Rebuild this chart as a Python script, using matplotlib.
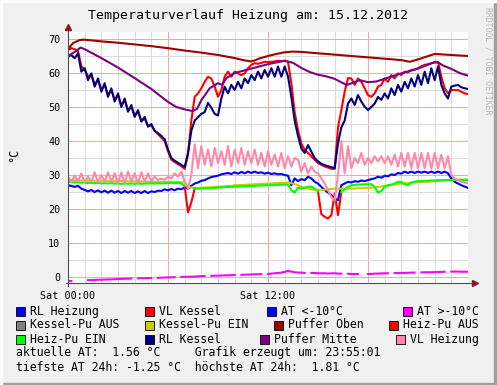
import numpy as np
import matplotlib
matplotlib.use("Agg")
import matplotlib.pyplot as plt
from matplotlib.patches import Rectangle

# RRD samples every 12 minutes over the day (hours since midnight)
hours = np.linspace(0, 24, 121)

rl_kessel = [
    64.8, 65.3, 64.3, 65.8, 60.4, 61.4, 57.9, 59.9, 56.0, 58.4,
    54.5, 57.0, 53.0, 55.5, 51.6, 54.0, 50.0, 52.5, 48.6, 50.6,
    47.1, 49.1, 45.7, 47.1, 44.2, 45.0, 43.0, 42.3, 41.5, 40.5,
    37.5, 35.0, 34.2, 33.6, 33.0, 32.3, 36.5, 43.0, 46.0, 47.0,
    48.0, 48.5, 51.2, 49.8, 48.0, 47.5, 52.5, 56.0, 54.0, 56.5,
    55.0, 57.4, 55.5, 58.4, 57.0, 59.4, 57.9, 60.4, 58.4, 60.9,
    58.9, 61.4, 58.9, 61.9, 58.9, 61.9, 59.0, 53.0, 46.0, 41.5,
    37.8, 36.5, 38.8, 36.9, 35.0, 34.0, 33.3, 32.9, 32.6, 32.3,
    32.0, 39.3, 44.0, 46.0, 51.0, 52.5, 50.6, 53.5, 51.6, 50.1,
    49.1, 50.0, 51.0, 53.0, 52.1, 54.0, 52.5, 55.5, 53.5, 56.5,
    54.5, 57.4, 55.5, 58.4, 56.0, 59.4, 56.5, 60.4, 57.0, 61.4,
    57.9, 61.9, 56.5, 54.0, 52.5, 56.0, 56.3, 56.5, 55.8, 55.5,
    55.3]

vl_kessel = [
    66.8, 67.3, 67.0, 66.5, 62.0, 61.0, 59.0, 59.5, 56.5, 58.0,
    55.0, 56.5, 53.5, 55.0, 52.0, 53.5, 50.5, 52.0, 49.0, 50.0,
    47.5, 48.5, 46.0, 46.5, 44.5, 44.5, 43.0, 42.0, 41.0, 40.0,
    37.0, 34.5, 33.8, 33.2, 32.6, 31.8, 36.0, 46.0, 53.0, 54.0,
    55.5, 57.4, 58.9, 58.4, 56.0, 53.0, 55.0, 58.9, 60.4, 58.9,
    60.4, 59.9, 59.4, 59.9, 61.4, 62.4, 62.9, 62.7, 63.0, 63.3,
    63.2, 63.3, 63.4, 63.6, 63.5, 63.6, 63.3, 57.0, 48.5, 43.2,
    39.3, 37.4, 36.5, 35.5, 34.5, 33.5, 33.0, 32.5, 32.2, 31.8,
    31.8, 44.0, 49.1, 54.5, 58.5, 58.4, 56.5, 58.4, 57.4, 55.5,
    53.5, 53.0, 54.0, 56.0, 56.5, 58.4, 57.4, 59.4, 58.4, 59.9,
    59.4, 60.4, 60.2, 60.9, 61.0, 61.4, 62.0, 62.4, 62.6, 62.9,
    63.1, 63.3, 58.9, 55.5, 54.0, 55.0, 55.0, 55.0, 54.5, 54.0,
    53.8]

vl_heizung = [
    29.5, 28.0, 29.8, 28.2, 30.5, 27.8, 29.5, 28.0, 30.8, 27.8,
    30.0, 28.0, 30.8, 28.0, 30.5, 27.5, 30.8, 27.5, 31.0, 28.0,
    30.5, 27.5, 30.8, 28.0, 30.5, 28.2, 29.5, 28.5, 29.0, 28.5,
    29.5, 29.0, 30.5, 29.5, 31.0, 28.0, 26.0, 30.0, 39.0, 32.0,
    38.5, 33.0, 37.5, 32.5, 38.0, 33.5, 37.0, 33.0, 38.5, 32.5,
    37.5, 33.5, 38.0, 33.0, 37.0, 33.5, 37.5, 33.0, 36.5, 32.5,
    37.0, 33.0, 36.0, 32.5, 36.5, 32.0, 35.5, 32.5, 35.0, 34.5,
    31.0, 33.5, 30.5, 32.5, 31.0, 30.5, 29.0, 27.5, 25.5, 23.5,
    22.5, 30.0, 40.0, 30.5, 38.5, 32.0, 35.0, 33.5, 36.5, 33.0,
    35.0, 33.5, 35.5, 34.0, 35.5, 33.5, 35.5, 33.0, 36.0, 32.5,
    36.5, 32.5, 36.5, 32.0, 36.5, 32.0, 36.5, 32.0, 36.5, 31.8,
    36.5, 32.0, 36.0, 32.0, 35.5, 30.0, 29.0, 28.5, 28.0, 27.8,
    27.5]

rl_heizung = [
    27.0, 26.8, 26.5, 26.8, 26.0, 25.6, 25.2, 25.6, 25.0, 25.5,
    24.9, 25.4, 24.8, 25.4, 24.8, 25.3, 24.7, 25.3, 24.8, 25.3,
    24.7, 25.2, 24.7, 25.3, 24.7, 25.2, 25.0, 25.4, 25.3, 25.8,
    25.5, 25.9, 25.5, 26.0, 25.8, 26.3, 26.0, 26.8, 27.5, 27.8,
    28.3, 28.5, 29.0, 29.4, 29.6, 29.8, 30.2, 30.4, 30.6, 30.3,
    30.8, 30.4, 30.9, 30.5, 31.0, 30.6, 31.0, 30.6, 30.8, 30.4,
    30.7, 30.3, 30.5, 30.2, 30.3, 30.0, 29.8, 27.0, 29.0, 28.2,
    28.8, 28.5, 29.5, 29.0, 28.0, 27.5, 26.5, 25.6, 24.8, 24.1,
    23.0, 22.6, 27.0, 27.5, 28.0, 27.8, 28.2, 28.0, 28.4, 28.2,
    28.5, 28.8, 29.0, 29.5, 29.2, 29.8, 29.6, 30.2, 30.0, 30.6,
    30.4, 31.0, 30.6, 31.0, 30.6, 31.0, 30.7, 31.0, 30.6, 31.0,
    30.6, 31.0, 30.6, 31.0, 30.5, 29.0, 28.0, 27.5, 27.0, 26.6,
    26.2]

heiz_pu = [
    28.0, 27.9, 27.8, 27.9, 27.7, 27.8, 27.6, 27.7, 27.6, 27.7,
    27.5, 27.6, 27.5, 27.6, 27.5, 27.5, 27.4, 27.5, 27.4, 27.5,
    27.4, 27.5, 27.4, 27.5, 27.5, 27.6, 27.5, 27.6, 27.5, 27.6,
    27.6, 27.7, 27.6, 27.7, 27.5, 26.8, 19.0, 22.0, 26.0, 26.0,
    26.0, 26.1, 26.1, 26.2, 26.2, 26.3, 26.4, 26.4, 26.5, 26.5,
    26.6, 26.6, 26.7, 26.7, 26.8, 26.8, 26.8, 26.9, 26.9, 27.0,
    27.0, 27.0, 27.1, 27.1, 27.1, 27.2, 27.2, 25.5, 24.8, 26.3,
    26.0, 26.3, 26.5, 26.6, 26.0, 25.2, 18.5, 17.7, 17.2, 18.2,
    24.6, 18.2, 25.0, 25.8, 26.5, 27.0, 27.1, 27.2, 27.2, 27.3,
    27.3, 27.3, 26.5, 24.8, 25.3, 26.5, 27.0, 27.2, 27.5, 28.0,
    28.0, 27.3, 27.0, 27.8, 28.0, 28.2, 28.2, 28.3, 28.3, 28.4,
    28.4, 28.5, 28.5, 28.5, 28.5, 28.5, 28.6, 28.5, 28.5, 28.5,
    28.5]
# samples where the heating pump was off
heiz_pu_off = [36, 37, 76, 77, 78, 79, 81]

kessel_pu_ein = [
    28.5, 28.5, 28.4, 28.5, 28.4, 28.4, 28.3, 28.4, 28.3, 28.3,
    28.3, 28.3, 28.2, 28.3, 28.2, 28.2, 28.2, 28.2, 28.1, 28.2,
    28.1, 28.1, 28.1, 28.1, 28.0, 28.1, 28.0, 28.0, 28.0, 28.0,
    28.0, 28.0, 28.0, 28.0, 27.9, 27.8, 26.5, 26.3, 26.2, 26.2,
    26.3, 26.3, 26.4, 26.4, 26.5, 26.6, 26.6, 26.7, 26.8, 26.8,
    27.0, 27.0, 27.1, 27.1, 27.2, 27.2, 27.3, 27.3, 27.4, 27.4,
    27.5, 27.5, 27.6, 27.6, 27.7, 27.7, 27.8, 27.6, 27.3, 27.0,
    26.5, 26.2, 26.0, 25.8, 25.7, 25.6, 25.6, 25.7, 25.8, 25.9,
    26.0, 26.0, 26.0, 26.0, 26.0, 26.0, 26.0, 26.1, 26.1, 26.1,
    26.2, 26.3, 26.4, 26.5, 26.6, 26.8, 26.9, 27.1, 27.2, 27.4,
    27.5, 27.6, 27.6, 27.7, 27.8, 27.8, 27.9, 28.0, 28.0, 28.1,
    28.2, 28.2, 28.3, 28.4, 28.5, 28.5, 28.6, 28.6, 28.7, 28.7,
    28.7]

at_aussen = [
    -1.25, -1.2, None, None, None, None, -0.9, -0.9, -0.85, -0.8,
    -0.8, -0.75, -0.7, -0.7, -0.65, -0.6, -0.55, -0.5, -0.5, -0.45,
    None, -0.4, -0.35, -0.35, -0.3, -0.3, None, -0.25, -0.2, -0.15,
    -0.1, -0.1, -0.05, None, 0.0, 0.05, 0.1, 0.1, 0.15, 0.2,
    0.25, 0.3, None, 0.35, 0.4, 0.4, 0.45, 0.5, 0.5, 0.55,
    0.6, None, 0.65, 0.7, 0.7, 0.75, 0.8, 0.8, 0.85, None,
    0.9, 1.0, 1.1, 1.2, 1.3, 1.5, 1.8, 1.6, 1.4, 1.3,
    1.3, 1.2, None, 1.2, 1.2, 1.1, 1.1, 1.1, 1.0, 1.1,
    1.1, 1.0, 1.0, None, 0.95, 0.9, 0.9, 0.9, None, None,
    0.9, 0.9, 1.0, 1.0, 1.05, 1.1, 1.1, None, 1.15, 1.2,
    1.2, 1.2, 1.25, 1.3, 1.3, None, 1.35, 1.4, 1.4, 1.4,
    1.45, 1.5, 1.5, 1.55, None, 1.6, 1.6, 1.6, 1.55, 1.55,
    1.56]

oben_h = [0, 0.3, 0.7, 1, 2, 3, 4, 5, 6, 7, 8, 9, 10, 10.5, 11, 11.25, 11.5,
          12, 12.5, 13, 13.5, 14, 15, 16, 17, 18, 19, 20, 20.5, 21, 21.5, 22, 23, 24]
puffer_oben = [67.0, 68.8, 69.7, 69.8, 69.3, 68.9, 68.4, 67.9, 67.3, 66.6, 66.0,
               65.3, 64.4, 63.8, 63.4, 63.8, 64.3, 65.0, 65.6, 66.1, 66.3, 66.2,
               65.8, 65.4, 65.0, 64.6, 64.2, 63.8, 63.3, 64.0, 64.8, 65.6, 65.3, 65.0]

mitte_h = [0, 0.5, 0.75, 1, 2, 3, 4, 5, 6, 6.5, 7, 7.5, 7.75, 8, 8.5, 9, 9.25, 9.5,
           10, 11, 12, 13, 13.5, 14, 14.5, 15, 15.5, 16, 16.5, 16.75, 17.5, 18,
           18.5, 19, 20, 21, 22, 22.25, 22.5, 23, 23.5, 24]
puffer_mitte = [65.0, 66.5, 67.5, 67.0, 64.4, 61.6, 58.5, 55.3, 51.5, 50.0, 49.3,
                48.8, 49.5, 52.0, 55.5, 57.0, 56.5, 58.5, 60.0, 61.3, 62.6, 63.6,
                63.0, 61.5, 60.3, 59.5, 59.0, 58.3, 57.0, 56.5, 57.9, 57.3, 57.5,
                58.3, 59.9, 61.3, 63.2, 63.0, 62.2, 61.2, 60.0, 59.2]

legend_labels = ["RL Heizung", "VL Kessel", "AT <-10°C", "AT >-10°C",
                 "Kessel-Pu AUS", "Kessel-Pu EIN", "Puffer Oben", "Heiz-Pu AUS",
                 "Heiz-Pu EIN", "RL Kessel", "Puffer Mitte", "VL Heizung"]
legend_colors = ["#0000FF", "#FF0000", "#0000FF", "#FF00FF",
                 "#808080", "#CCCC00", "#A00000", "#FF0000",
                 "#00FF00", "#000080", "#800080", "#FF88AA"]

plt.rcParams["font.family"] = "DejaVu Sans Mono"

W, H = 497, 385


def fx(x):
    return x / W


def fy(y):
    return 1 - y / H


fig = plt.figure(figsize=(W / 100, H / 100), dpi=100, facecolor="#F0F0F0")
ax = fig.add_axes([fx(68), fy(283), fx(468) - fx(68), fy(32) - fy(283)])
ax.set_facecolor("white")
ax.set_xlim(0, 24)
ax.set_ylim(-1.76, 72.06)
for s in ax.spines.values():
    s.set_visible(False)

# grid: minor grey, major light red
for h in range(0, 25):
    ax.axvline(h, color="#F2A8A8" if h % 6 == 0 else "#DCDCDC", lw=0.75, zorder=0)
for v in range(0, 75, 5):
    ax.axhline(v, color="#F2A8A8" if v % 10 == 0 else "#DCDCDC", lw=0.75, zorder=0)

lw = 1.5
ein = np.array(heiz_pu, dtype=float)
aus = np.full(len(heiz_pu), np.nan)
for i in heiz_pu_off:
    ein[i] = np.nan
for i in heiz_pu_off:
    for j in (i - 1, i, i + 1):
        aus[j] = heiz_pu[j]
at = np.array([np.nan if v is None else v for v in at_aussen])

ax.plot(hours, rl_heizung, color="#0000FF", lw=lw)
ax.plot(hours, vl_kessel, color="#FF0000", lw=lw)
ax.plot(hours, at, color="#FF00FF", lw=lw)
ax.plot(hours, kessel_pu_ein, color="#CCCC00", lw=lw)
ax.plot(oben_h, puffer_oben, color="#A00000", lw=lw)
ax.plot(hours, aus, color="#FF0000", lw=lw)
ax.plot(hours, ein, color="#00FF00", lw=lw)
ax.plot(hours, rl_kessel, color="#000080", lw=lw)
ax.plot(mitte_h, puffer_mitte, color="#800080", lw=lw)
ax.plot(hours, vl_heizung, color="#FF88AA", lw=lw)

# axes with arrows
ax.plot([0, 0], [-2.6, 73.3], color="#505050", lw=0.8, clip_on=False)
ax.plot([-0.15, 24.3], [-1.76, -1.76], color="#505050", lw=0.8, clip_on=False)
ax.plot([0], [73.6], marker="^", color="#8B1A1A", ms=4, clip_on=False)
ax.plot([24.4], [-1.76], marker=">", color="#8B1A1A", ms=4, clip_on=False)

ax.set_yticks(range(0, 71, 10))
ax.set_xticks([0, 12])
ax.set_xticklabels(["Sat 00:00", "Sat 12:00"])
ax.tick_params(length=0, pad=5.5, labelsize=7.3)

fig.text(0.5, fy(16), "Temperaturverlauf Heizung am: 15.12.2012",
         ha="center", va="center", fontsize=9.5)
fig.text(fx(14), fy(155), "°C", rotation=90, ha="center", va="center", fontsize=8.5)
fig.text(fx(488), fy(7), "RRDTOOL / TOBI OETIKER", rotation=270, ha="center",
         va="top", fontsize=5.9, color="#B8B8B8")

# justified legend rows (square x positions per row)
row_x = [[16, 145, 267, 403], [16, 145, 274, 389], [16, 145, 260, 396]]
row_y = [311.7, 325, 339.3]
for k, (lab, col) in enumerate(zip(legend_labels, legend_colors)):
    x = row_x[k // 4][k % 4]
    y = row_y[k // 4]
    fig.patches.append(Rectangle((fx(x), fy(y + 4.5)), 9 / W, 9 / H,
                                 transform=fig.transFigure, facecolor=col,
                                 edgecolor="black", lw=0.6))
    fig.text(fx(x + 14), fy(y), lab, va="center", fontsize=8.3)

fig.text(fx(16), fy(352.7), "aktuelle AT:  1.56 °C     Grafik erzeugt um: 23:55:01",
         va="center", fontsize=8.3)
fig.text(fx(16), fy(367.3), "tiefste AT 24h: -1.25 °C  höchste AT 24h:  1.81 °C",
         va="center", fontsize=8.3)

# shaded frame
fig.patches.append(Rectangle((0, 0), 1, 2 / H, transform=fig.transFigure, color="#A0A0A0"))
fig.patches.append(Rectangle((1 - 3 / W, 0), 3 / W, 1, transform=fig.transFigure, color="#A0A0A0"))
fig.patches.append(Rectangle((0, 1 - 2 / H), 1, 2 / H, transform=fig.transFigure, color="#FCFCFC"))
fig.patches.append(Rectangle((0, 0), 2 / W, 1, transform=fig.transFigure, color="#FCFCFC"))

fig.savefig("out.png", dpi=100, facecolor=fig.get_facecolor())
